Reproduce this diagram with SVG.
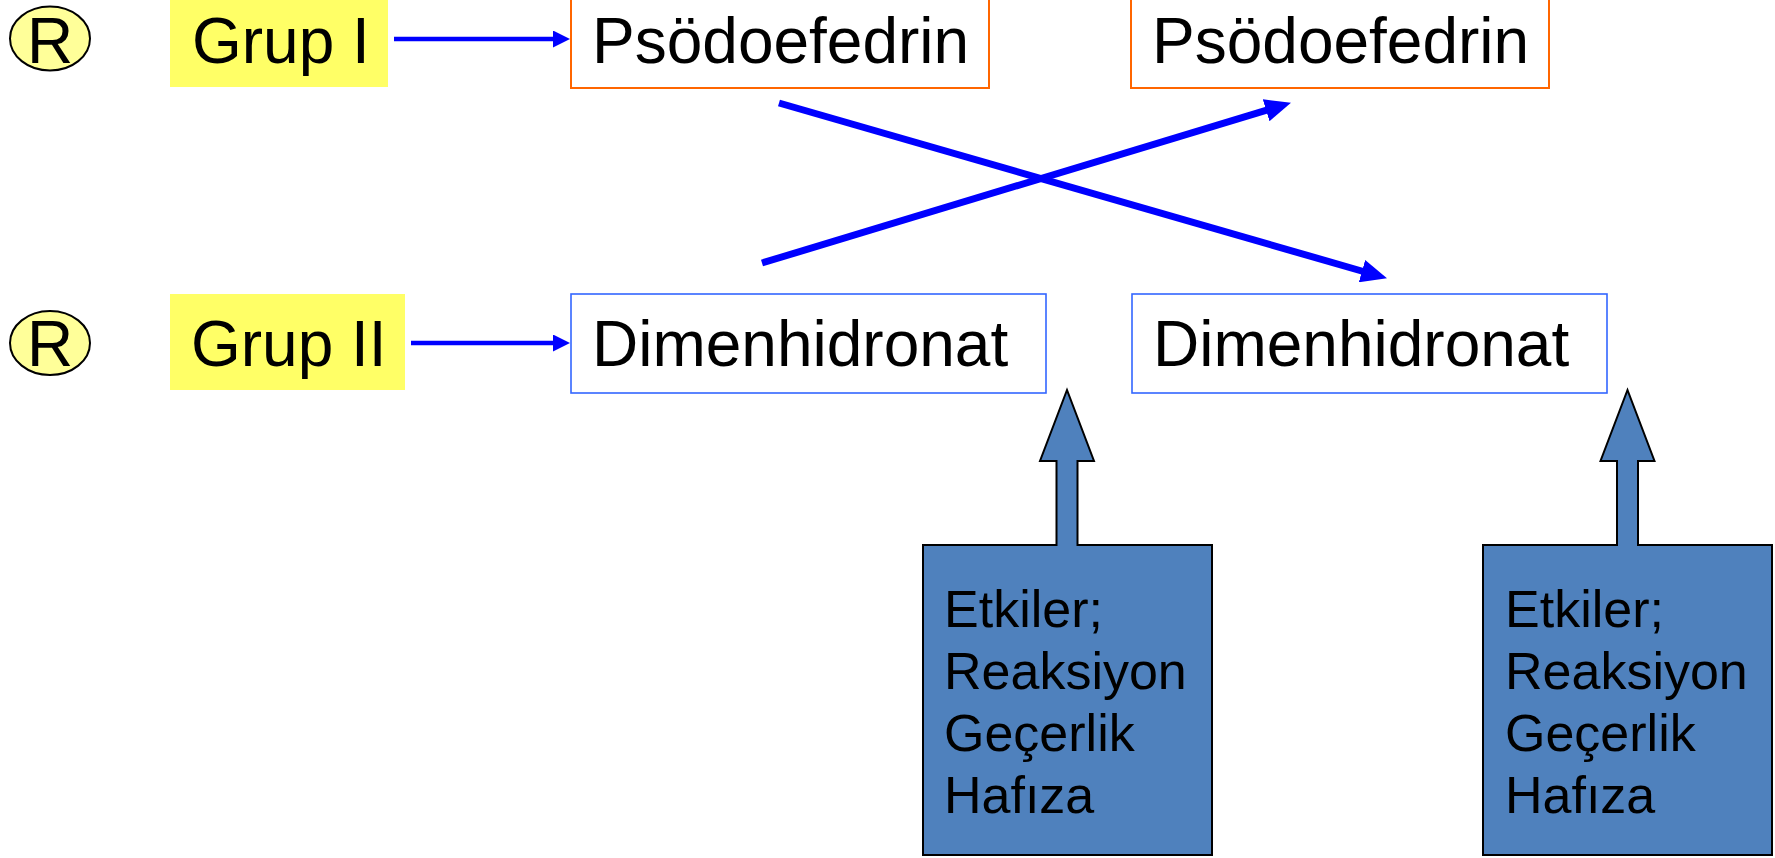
<svg xmlns="http://www.w3.org/2000/svg" width="1775" height="858" viewBox="0 0 1775 858">
  <defs>
    <style>
      .t { font-family: "Liberation Sans", Arial, sans-serif; fill: #000; }
      .big { font-size: 64px; }
      .small { font-size: 52px; }
      .badge { fill: #FFFF99; stroke: #000; stroke-width: 2; }
      .grp { fill: #FFFF66; }
      .drugA { fill: #fff; stroke: #FF6600; stroke-width: 2; }
      .drugB { fill: #fff; stroke: #3366FF; stroke-width: 1.6; }
      .note { fill: #4F81BD; stroke: #000; stroke-width: 2; }
      .thin { stroke: #0000FF; stroke-width: 4.5; fill: none; }
      .thick { stroke: #0000FF; stroke-width: 7; fill: none; }
    </style>
    <marker id="headS" markerUnits="userSpaceOnUse" markerWidth="17" markerHeight="17" refX="4" refY="8.5" orient="auto">
      <path d="M0,0 L17,8.5 L0,17 z" fill="#0000FF"/>
    </marker>
    <marker id="headL" markerUnits="userSpaceOnUse" markerWidth="26" markerHeight="23" refX="5" refY="11.5" orient="auto">
      <path d="M0,0 L26,11.5 L0,23 z" fill="#0000FF"/>
    </marker>
  </defs>

  <rect width="1775" height="858" fill="#fff"/>

  <!-- row 1 -->
  <g id="badge1">
    <ellipse class="badge" cx="50" cy="38.5" rx="40" ry="32"/>
    <text class="t" x="50" y="63" font-size="64" text-anchor="middle">R</text>
  </g>
  <g id="grup1">
    <rect class="grp" x="170" y="0" width="218" height="87"/>
    <text class="t big" x="192" y="63">Grup I</text>
  </g>
  <g id="pso1">
    <rect class="drugA" x="571" y="-2" width="418" height="90"/>
    <text class="t big" x="592" y="62.5">Psödoefedrin</text>
  </g>
  <g id="pso2">
    <rect class="drugA" x="1131" y="-2" width="418" height="90"/>
    <text class="t big" x="1152" y="62.5">Psödoefedrin</text>
  </g>

  <!-- row 2 -->
  <g id="badge2">
    <ellipse class="badge" cx="50" cy="343" rx="40" ry="32"/>
    <text class="t" x="50" y="366" font-size="64" text-anchor="middle">R</text>
  </g>
  <g id="grup2">
    <rect class="grp" x="170" y="294" width="235" height="96"/>
    <text class="t big" x="191" y="366">Grup II</text>
  </g>
  <g id="dim1">
    <rect class="drugB" x="571" y="294" width="475" height="99"/>
    <text class="t big" x="592" y="366">Dimenhidronat</text>
  </g>
  <g id="dim2">
    <rect class="drugB" x="1132" y="294" width="475" height="99"/>
    <text class="t big" x="1153" y="366">Dimenhidronat</text>
  </g>

  <!-- callout boxes with block arrows -->
  <g id="note1">
    <path class="note" d="M923,545 L1056.5,545 L1056.5,461 L1040,461 L1067,390 L1094,461 L1077.5,461 L1077.5,545 L1212,545 L1212,855 L923,855 Z"/>
    <text class="t small" x="944">
      <tspan x="944" y="627">Etkiler;</tspan>
      <tspan x="944" y="689">Reaksiyon</tspan>
      <tspan x="944" y="751">Geçerlik</tspan>
      <tspan x="944" y="813">Hafıza</tspan>
    </text>
  </g>
  <g id="note2">
    <path class="note" d="M1483,545 L1617,545 L1617,461 L1600.5,461 L1627.5,390 L1654.5,461 L1638,461 L1638,545 L1772,545 L1772,855 L1483,855 Z"/>
    <text class="t small" x="1505">
      <tspan x="1505" y="627">Etkiler;</tspan>
      <tspan x="1505" y="689">Reaksiyon</tspan>
      <tspan x="1505" y="751">Geçerlik</tspan>
      <tspan x="1505" y="813">Hafıza</tspan>
    </text>
  </g>

  <!-- connectors -->
  <g id="connectors">
    <line class="thin" x1="394" y1="39" x2="557" y2="39" marker-end="url(#headS)"/>
    <line class="thin" x1="411" y1="343" x2="557" y2="343" marker-end="url(#headS)"/>
    <line class="thick" x1="779" y1="103" x2="1366.8" y2="272.5" marker-end="url(#headL)"/>
    <line class="thick" x1="762" y1="263" x2="1270.9" y2="108.8" marker-end="url(#headL)"/>
  </g>
</svg>
